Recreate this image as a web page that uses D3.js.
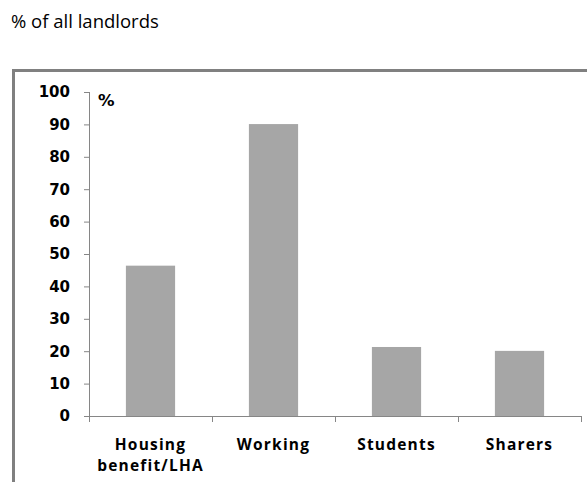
<!DOCTYPE html>
<html><head><meta charset="utf-8">
<script src="https://cdn.jsdelivr.net/npm/d3@7"></script>
<style>body{margin:0;background:#fff;} svg{display:block;}</style>
</head><body>
<script>
const categories = ["Housing benefit/LHA", "Working", "Students", "Sharers"];
const values = [46.4, 90.1, 21.3, 20.1];
const yTicks = [0,10,20,30,40,50,60,70,80,90,100];
const title = "% of all landlords";
const unitLabel = "%";

(function() {
const W = 587, H = 482;
const svg = d3.select("body").append("svg").attr("width", W).attr("height", H);

svg.append("text").attr("x", 11).attr("y", 27.5).text(title)
  .attr("font-family", "Open Sans, sans-serif").attr("font-size", 18.5).attr("fill", "#000");

// frame
svg.append("rect").attr("x", 13.5).attr("y", 70.5).attr("width", 600).attr("height", 500)
  .attr("fill", "none").attr("stroke", "#808080").attr("stroke-width", 3);

const mLeft = 89, mRight = 581, mTop = 92, mBottom = 416;
const x = d3.scaleBand().domain(categories).range([mLeft, mRight]).paddingInner(0.6).paddingOuter(0.3);
const y = d3.scaleLinear().domain([0, 100]).range([mBottom, mTop]);

svg.selectAll("rect.bar").data(values).enter().append("rect").attr("class", "bar")
  .attr("x", (d, i) => x(categories[i])).attr("width", x.bandwidth())
  .attr("y", d => y(d)).attr("height", d => y(0) - y(d)).attr("fill", "#a6a6a6");

const axisColor = "#868686";
const yAxis = svg.append("g").attr("transform", `translate(${mLeft},0)`)
  .call(d3.axisLeft(y).tickValues(yTicks).tickSize(5).tickPadding(14));
yAxis.select(".domain").attr("stroke", axisColor).attr("d", `M0.5,${mTop}V${mBottom}`);
yAxis.selectAll(".tick line").attr("stroke", axisColor);
yAxis.selectAll("text").attr("font-family", "DejaVu Sans, sans-serif").attr("font-size", 15)
  .attr("font-weight", "bold").attr("fill", "#000");

const xAxisG = svg.append("g").attr("transform", `translate(0,${mBottom})`);
xAxisG.append("line").attr("x1", mLeft).attr("x2", mRight).attr("y1", 0.5).attr("y2", 0.5).attr("stroke", axisColor);
const bnd = categories.map(c => x(c) + x.bandwidth() / 2 - x.step() / 2);
bnd.push(x(categories[categories.length - 1]) + x.bandwidth() / 2 + x.step() / 2);
xAxisG.selectAll("line.tk").data(bnd).enter().append("line").attr("class", "tk")
  .attr("x1", d => Math.round(d) + 0.5).attr("x2", d => Math.round(d) + 0.5).attr("y1", 0).attr("y2", 6).attr("stroke", axisColor);

const labels = xAxisG.selectAll("text.cat").data(categories).enter().append("text").attr("class", "cat")
  .attr("x", d => x(d) + x.bandwidth() / 2).attr("y", 34)
  .attr("text-anchor", "middle").attr("font-family", "Open Sans, sans-serif").attr("font-size", 15.5)
  .attr("letter-spacing", 1.2)
  .attr("font-weight", "bold").attr("fill", "#000");
labels.each(function(d) {
  const t = d3.select(this);
  const parts = d === "Housing benefit/LHA" ? ["Housing", "benefit/LHA"] : [d];
  parts.forEach((p, i) => t.append("tspan").attr("x", x(d) + x.bandwidth() / 2).attr("dy", i === 0 ? 0 : 21).text(p));
});

svg.append("text").attr("x", 98).attr("y", 106).text(unitLabel)
  .attr("font-family", "DejaVu Sans, sans-serif").attr("font-size", 16.5).attr("font-weight", "bold").attr("fill", "#000");
})();
</script>
</body></html>
